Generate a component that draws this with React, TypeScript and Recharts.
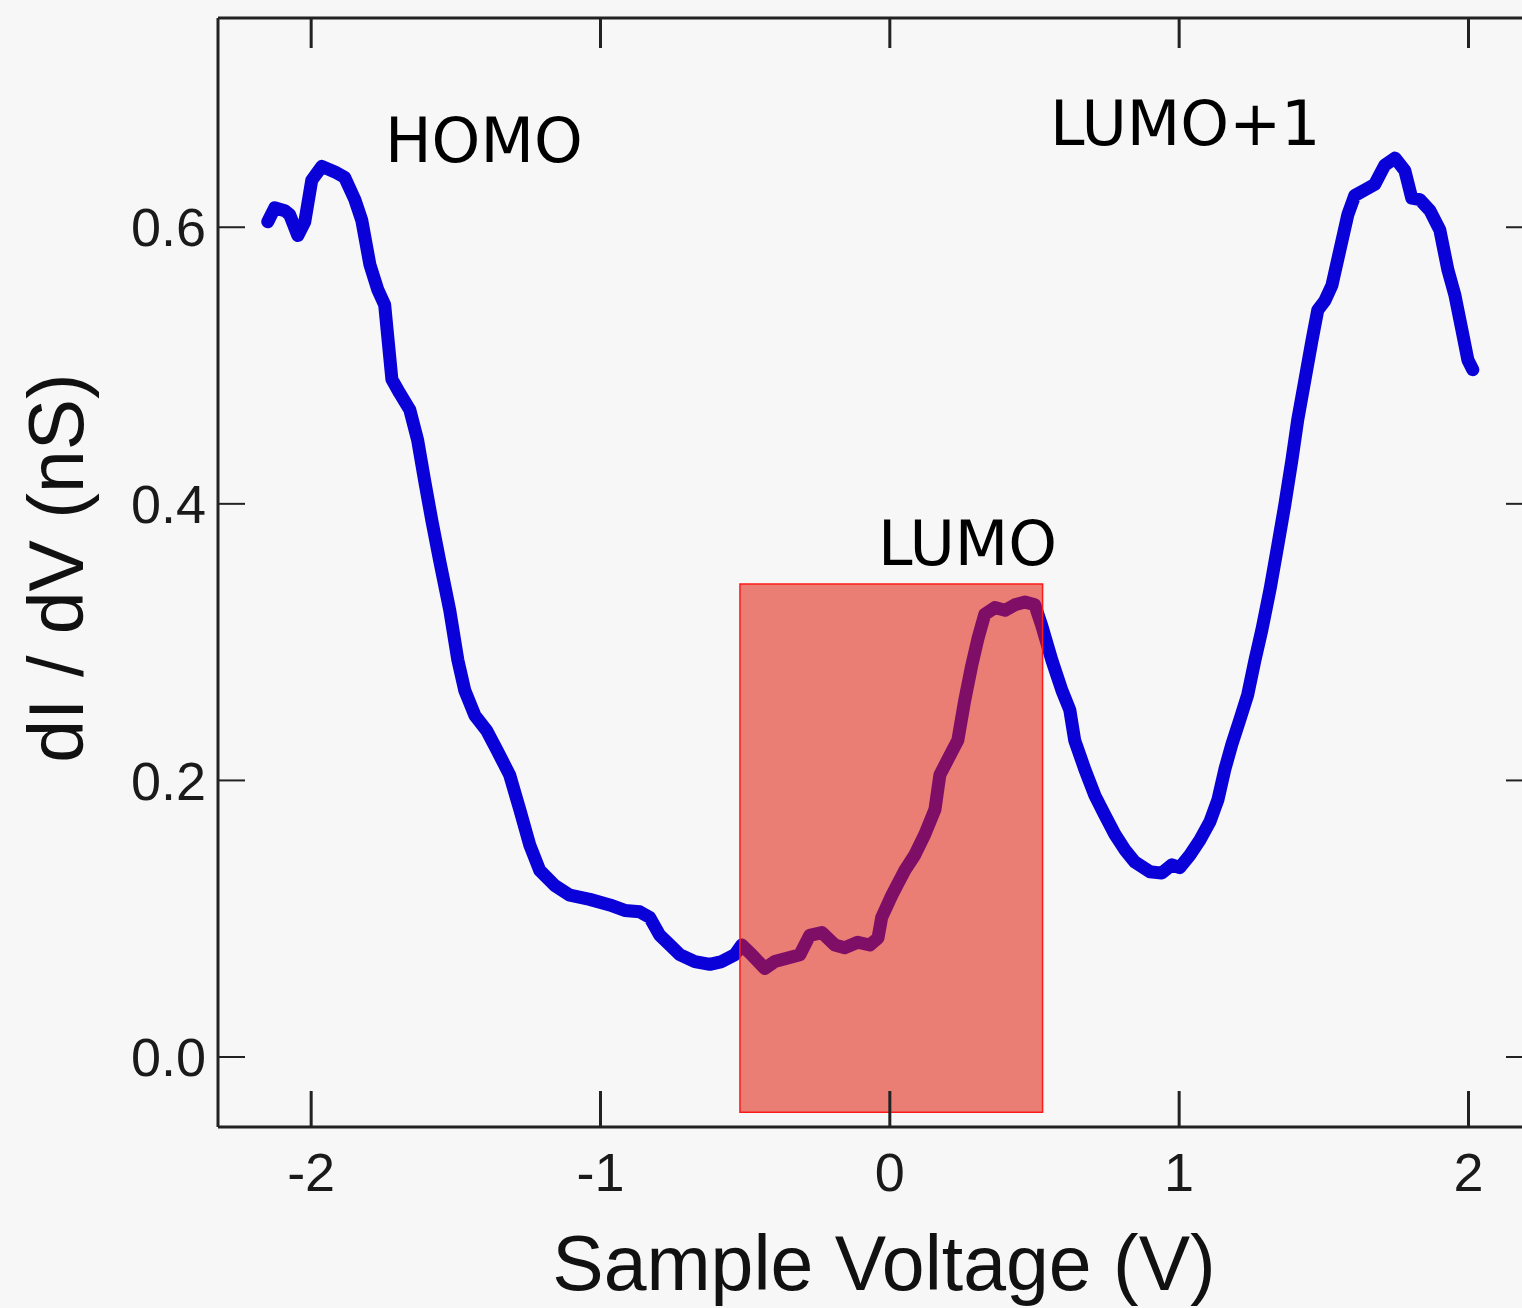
import { LineChart, Line, XAxis, YAxis, ReferenceArea } from 'recharts'

const voltage = [
  -2.15, -2.126, -2.091, -2.074, -2.046, -2.022, -1.998, -1.963, -1.918, -1.884,
  -1.849, -1.825, -1.797, -1.77, -1.746, -1.721, -1.694, -1.659, -1.632, -1.608,
  -1.583, -1.556, -1.521, -1.493, -1.469, -1.434, -1.393, -1.358, -1.314, -1.279,
  -1.244, -1.21, -1.158, -1.106, -1.037, -0.968, -0.916, -0.864, -0.83, -0.795,
  -0.76, -0.726, -0.674, -0.622, -0.581, -0.536, -0.512, -0.477, -0.432, -0.398,
  -0.346, -0.311, -0.277, -0.235, -0.19, -0.156, -0.111, -0.069, -0.041, -0.028,
  0.007, 0.052, 0.086, 0.121, 0.156, 0.173, 0.2, 0.235, 0.259, 0.283,
  0.304, 0.328, 0.363, 0.398, 0.432, 0.467, 0.501, 0.525, 0.56, 0.595,
  0.622, 0.639, 0.674, 0.709, 0.743, 0.778, 0.812, 0.847, 0.899, 0.94,
  0.975, 1.002, 1.037, 1.072, 1.106, 1.134, 1.158, 1.182, 1.21, 1.237,
  1.262, 1.286, 1.314, 1.341, 1.365, 1.39, 1.41, 1.435, 1.459, 1.479,
  1.504, 1.528, 1.556, 1.583, 1.607, 1.642, 1.676, 1.711, 1.746, 1.78,
  1.804, 1.832, 1.867, 1.901, 1.929, 1.953, 1.977, 1.998, 2.015,
]
const didv = [
  0.604, 0.614, 0.612, 0.609, 0.594, 0.604, 0.634, 0.644, 0.64, 0.636,
  0.62, 0.605, 0.573, 0.555, 0.544, 0.49, 0.48, 0.468, 0.446, 0.417,
  0.388, 0.359, 0.323, 0.287, 0.265, 0.247, 0.236, 0.222, 0.204, 0.179,
  0.153, 0.135, 0.124, 0.117, 0.114, 0.11, 0.106, 0.105, 0.101, 0.088,
  0.081, 0.074, 0.069, 0.067, 0.069, 0.074, 0.081, 0.074, 0.064, 0.069,
  0.072, 0.074, 0.088, 0.09, 0.081, 0.079, 0.083, 0.081, 0.086, 0.101,
  0.117, 0.135, 0.146, 0.161, 0.179, 0.204, 0.215, 0.229, 0.258, 0.283,
  0.302, 0.32, 0.325, 0.323, 0.327, 0.329, 0.327, 0.312, 0.287, 0.265,
  0.251, 0.229, 0.208, 0.189, 0.175, 0.161, 0.15, 0.141, 0.134, 0.133,
  0.139, 0.137, 0.146, 0.157, 0.17, 0.186, 0.208, 0.226, 0.244, 0.262,
  0.287, 0.309, 0.338, 0.37, 0.399, 0.432, 0.461, 0.49, 0.518, 0.54,
  0.547, 0.558, 0.584, 0.609, 0.623, 0.627, 0.631, 0.645, 0.65, 0.641,
  0.621, 0.62, 0.612, 0.598, 0.569, 0.551, 0.526, 0.504, 0.497,
]

const xDomain = [-2.322, 2.185]
const yDomain = [-0.0506, 0.7513]
const xTicks = [-2, -1, 0, 1, 2]
const yTicks = [0, 0.2, 0.4, 0.6]

// highlighted LUMO window
const windowV = [-0.518, 0.528]
const windowG = [-0.04, 0.342]

const data = voltage.map((v, i) => ({ v, g: didv[i] }))

const AXIS = '#222'
const SANS = '"Liberation Sans", Arial, sans-serif'
const TICK_FONT = { fontSize: 54, fill: '#1a1a1a', fontFamily: SANS }
const NOTE_FONT = '"DejaVu Sans", Verdana, sans-serif'
const blank = () => ''

export default function App() {
  return (
    <div style={{ position: 'fixed', left: 0, top: 0, width: 1522, height: 1308, background: '#f7f7f7' }}>
      <LineChart width={1522} height={1308} data={data} margin={{ top: 18, right: 0, bottom: 0, left: 0 }}>
        <XAxis
          xAxisId="main"
          dataKey="v"
          type="number"
          domain={xDomain}
          ticks={xTicks}
          allowDataOverflow
          height={181}
          tickLine={false}
          tickSize={0}
          tickMargin={26}
          tick={TICK_FONT}
          axisLine={{ stroke: AXIS, strokeWidth: 3 }}
          label={{
            value: 'Sample Voltage (V)',
            position: 'insideBottom',
            offset: 18,
            dx: 14,
            fontSize: 77,
            fill: '#111',
            fontFamily: SANS,
          }}
        />
        <XAxis
          xAxisId="bottomTicks"
          dataKey="v"
          type="number"
          domain={xDomain}
          ticks={xTicks}
          allowDataOverflow
          mirror
          height={1}
          tickSize={36}
          tickFormatter={blank}
          tickLine={{ stroke: AXIS, strokeWidth: 3 }}
          axisLine={false}
        />
        <XAxis
          xAxisId="top"
          orientation="top"
          dataKey="v"
          type="number"
          domain={xDomain}
          ticks={xTicks}
          allowDataOverflow
          mirror
          height={1}
          tickSize={30}
          tickFormatter={blank}
          tickLine={{ stroke: AXIS, strokeWidth: 3 }}
          axisLine={{ stroke: AXIS, strokeWidth: 3 }}
        />
        <YAxis
          yAxisId="main"
          type="number"
          domain={yDomain}
          ticks={yTicks}
          allowDataOverflow
          width={218}
          tickLine={false}
          tickSize={0}
          tickMargin={12}
          tick={TICK_FONT}
          tickFormatter={(t: number) => t.toFixed(1)}
          axisLine={{ stroke: AXIS, strokeWidth: 3 }}
          label={{
            content: () => (
              <text
                x={56}
                y={568}
                transform="rotate(-90 56 568)"
                textAnchor="middle"
                dominantBaseline="central"
                fontSize={77}
                fill="#111"
                fontFamily={SANS}
              >
                dI / dV (nS)
              </text>
            ),
          }}
        />
        <YAxis
          yAxisId="leftTicks"
          type="number"
          domain={yDomain}
          ticks={yTicks}
          allowDataOverflow
          mirror
          width={1}
          tickSize={27}
          tickFormatter={blank}
          tickLine={{ stroke: AXIS, strokeWidth: 2 }}
          axisLine={false}
        />
        <YAxis
          yAxisId="right"
          orientation="right"
          type="number"
          domain={yDomain}
          ticks={yTicks}
          allowDataOverflow
          mirror
          width={1}
          tickSize={16}
          tickFormatter={blank}
          tickLine={{ stroke: AXIS, strokeWidth: 2 }}
          axisLine={false}
        />
        <Line
          xAxisId="main"
          yAxisId="main"
          type="linear"
          dataKey="g"
          stroke="#0a00d8"
          strokeWidth={13}
          strokeLinejoin="round"
          strokeLinecap="round"
          dot={false}
          isAnimationActive={false}
        />
        <ReferenceArea
          xAxisId="main"
          yAxisId="main"
          x1={windowV[0]}
          x2={windowV[1]}
          y1={windowG[0]}
          y2={windowG[1]}
          fill="#e01a0a"
          fillOpacity={0.55}
          stroke="#ff1a1a"
          strokeOpacity={1}
          strokeWidth={1.5}
          zIndex={450}
        />
        <text x={385} y={162} fontSize={62} fontFamily={NOTE_FONT} fill="#000">HOMO</text>
        <text x={878} y={565} fontSize={62} fontFamily={NOTE_FONT} fill="#000">LUMO</text>
        <text x={1050} y={145} fontSize={62} fontFamily={NOTE_FONT} fill="#000">LUMO+1</text>
      </LineChart>
    </div>
  )
}
